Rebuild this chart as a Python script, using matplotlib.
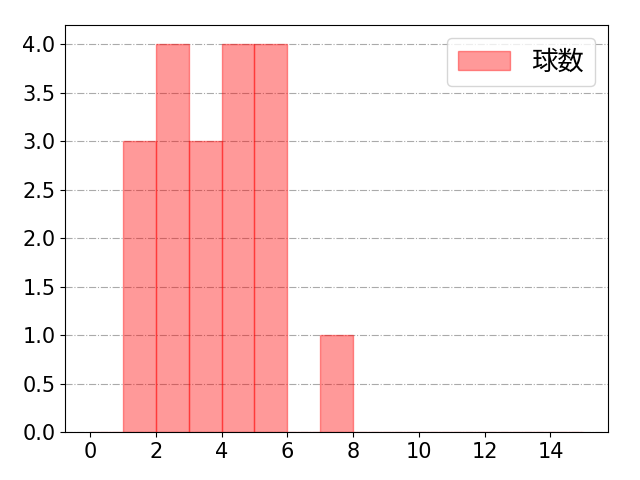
import matplotlib
matplotlib.use("Agg")
import matplotlib.pyplot as plt
import numpy as np

plt.rcParams['font.family'] = ['DejaVu Sans', 'Noto Sans CJK JP']

bin_edges = list(range(0, 16))
counts = [0, 3, 4, 3, 4, 4, 0, 1, 0, 0, 0, 0, 0, 0, 0]
label = "球数"

fig, ax = plt.subplots(figsize=(6.4, 4.8), dpi=100)
centers = np.array(bin_edges[:-1]) + 0.5
ax.hist(centers, bins=bin_edges, weights=counts, color='red', alpha=0.4,
        edgecolor='red', linewidth=1, label=label)
ax.grid(axis='y', linestyle='-.', color='#aaaaaa')
ax.set_axisbelow(True)
ax.set_xticks(range(0, 16, 2))
ax.tick_params(labelsize=15)
ax.legend(prop={'family': ['Noto Sans CJK JP'], 'size': 19})
fig.subplots_adjust(left=0.102, right=0.95, top=0.948, bottom=0.1)
fig.savefig("out.png")
